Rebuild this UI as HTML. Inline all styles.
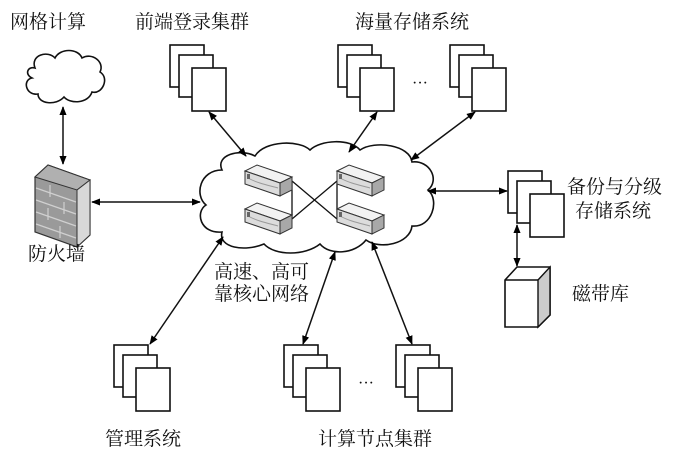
<!DOCTYPE html>
<html><head><meta charset="utf-8"><style>
html,body{margin:0;padding:0;background:#fff;width:681px;height:462px;overflow:hidden}
text{font-family:"Liberation Serif","Noto Serif CJK SC","Noto Sans CJK SC",serif;font-size:19px;fill:#111}
</style></head><body>
<svg width="681" height="462" viewBox="0 0 681 462" xmlns="http://www.w3.org/2000/svg">
<defs>
<marker id="a" viewBox="0 0 10 10" refX="9" refY="5" markerWidth="9" markerHeight="9" orient="auto-start-reverse" markerUnits="userSpaceOnUse">
<path d="M0,1 L10,5 L0,9 z" fill="#000"/></marker>
<g id="stk" fill="#fff" stroke="#111" stroke-width="1.6">
<rect x="0" y="0" width="34" height="42"/>
<rect x="9" y="10" width="34" height="42"/>
<rect x="22" y="23" width="34" height="43"/>
</g>
<g id="srv" stroke="#333" stroke-width="1">
<polygon points="0,6 12,0 47,12 35,18" fill="#f2f2f2"/>
<polygon points="0,6 35,18 35,31 0,19" fill="#dcdcdc"/>
<polygon points="35,18 47,12 47,25 35,31" fill="#a8a8a8"/>
<path d="M3,13 C12,18 22,20 33,23" fill="none" stroke="#999"/>
<rect x="2" y="9" width="3" height="5" fill="#666" stroke="none"/>
</g>
</defs>
<g fill="#fff" stroke="#111" stroke-width="1.6">
<path d="M35,68 C30,55 48,50 55,58 C60,48 78,48 82,58 C92,52 105,62 100,72 C110,78 102,95 92,92 C88,104 70,104 64,97 C56,106 38,104 38,94 C26,96 22,80 32,78 C24,74 28,66 35,68 Z"/>
<path d="M222,170 C215,155 240,148 255,156 C265,140 300,140 310,150 C320,140 350,138 360,150 C375,140 410,145 412,162 C430,160 440,180 428,190 C440,200 432,228 412,226 C410,244 380,250 366,240 C355,254 330,256 320,244 C305,256 275,256 264,244 C245,252 218,248 222,232 C200,234 195,212 206,205 C194,195 200,170 222,170 Z"/>
</g>
<g stroke="#111" stroke-width="1.3" fill="none">
<line x1="292" y1="181" x2="292" y2="219"/>
<line x1="337" y1="181" x2="337" y2="219"/>
<line x1="292" y1="181" x2="337" y2="219"/>
<line x1="292" y1="219" x2="337" y2="181"/>
</g>
<use href="#srv" x="245" y="165"/>
<use href="#srv" x="245" y="203"/>
<use href="#srv" x="337" y="165"/>
<use href="#srv" x="337" y="203"/>
<use href="#stk" x="170" y="45"/>
<use href="#stk" x="338" y="45"/>
<use href="#stk" x="450" y="45"/>
<use href="#stk" x="114" y="345"/>
<use href="#stk" x="284" y="345"/>
<use href="#stk" x="396" y="345"/>
<use href="#stk" x="508" y="171"/>
<text x="412" y="88" style="font-size:16px">···</text>
<text x="358" y="388" style="font-size:16px">···</text>
<polygon points="35,177 48,165 90,180 90,235 77,247 35,232" fill="#9a9a9a" stroke="#333" stroke-width="1.2"/>
<polygon points="35,177 48,165 90,180 77,190" fill="#b0b0b0" stroke="#333" stroke-width="1"/>
<polygon points="77,190 90,180 90,235 77,247" fill="#d8d8d8" stroke="#333" stroke-width="1"/>
<g stroke="#d0d0d0" stroke-width="1.2">
<line x1="36" y1="188" x2="76" y2="202"/><line x1="36" y1="200" x2="76" y2="214"/><line x1="36" y1="212" x2="76" y2="226"/><line x1="36" y1="224" x2="76" y2="238"/>
<line x1="50" y1="185" x2="50" y2="197"/><line x1="64" y1="202" x2="64" y2="214"/><line x1="48" y1="208" x2="48" y2="220"/><line x1="60" y1="226" x2="60" y2="238"/>
</g>
<polygon points="505,280 517,267 550,267 550,315 538,327 505,327" fill="#fff" stroke="#111" stroke-width="1.6"/>
<polygon points="538,280 550,267 550,315 538,327" fill="#ccc" stroke="#111" stroke-width="1.4"/>
<line x1="505" y1="280" x2="538" y2="280" stroke="#111" stroke-width="1.4"/>
<g stroke="#111" stroke-width="1.5" marker-start="url(#a)" marker-end="url(#a)">
<line x1="63" y1="107" x2="63" y2="164"/>
<line x1="92" y1="202" x2="200" y2="202"/>
<line x1="209" y1="112" x2="246" y2="156"/>
<line x1="377" y1="112" x2="349" y2="152"/>
<line x1="475" y1="112" x2="411" y2="160"/>
<line x1="428" y1="191" x2="507" y2="191"/>
<line x1="517" y1="225" x2="517" y2="266"/>
<line x1="223" y1="237" x2="150" y2="344"/>
<line x1="335" y1="252" x2="303" y2="344"/>
<line x1="372" y1="242" x2="412" y2="344"/>
</g>
<text x="10" y="28">网格计算</text>
<text x="135" y="28">前端登录集群</text>
<text x="355" y="28">海量存储系统</text>
<text x="567" y="193">备份与分级</text>
<text x="575" y="217">存储系统</text>
<text x="572" y="300">磁带库</text>
<text x="28" y="260">防火墙</text>
<text x="214" y="278">高速、高可</text>
<text x="214" y="300">靠核心网络</text>
<text x="105" y="445">管理系统</text>
<text x="318" y="445">计算节点集群</text>
</svg>
</body></html>
